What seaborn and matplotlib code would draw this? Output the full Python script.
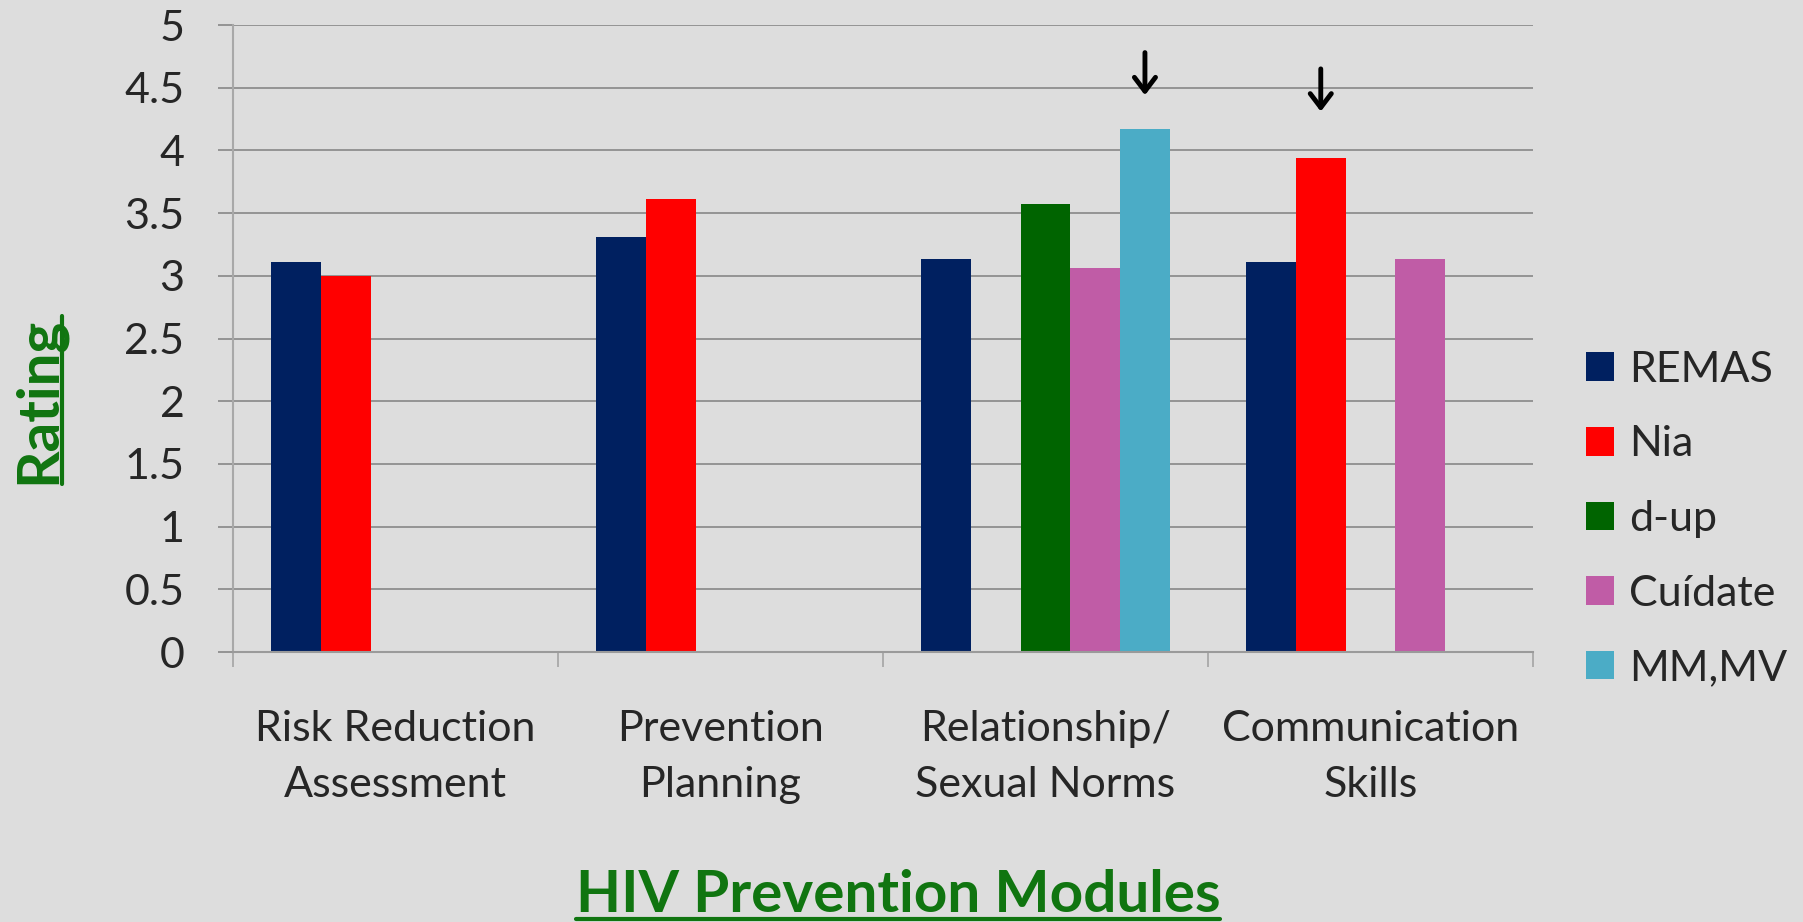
import numpy as np
import pandas as pd
import matplotlib
matplotlib.use("Agg")
import matplotlib.pyplot as plt
from matplotlib.lines import Line2D
import seaborn as sns

# ---------------- data ----------------
modules = ["Risk Reduction\nAssessment", "Prevention\nPlanning",
           "Relationship/\nSexual Norms", "Communication\nSkills"]
programs = ["REMAS", "Nia", "d-up", "Cuídate", "MM,MV"]
remas = [3.11, 3.31, 3.13, 3.11]
nia = [3.00, 3.61, np.nan, 3.94]
dup = [np.nan, np.nan, 3.57, np.nan]
cuidate = [np.nan, np.nan, 3.06, 3.13]
mmmv = [np.nan, np.nan, 4.17, np.nan]
colors = ["#002060", "#FF0000", "#006400", "#C05CA6", "#4BACC6"]
y_ticks = [0, 0.5, 1, 1.5, 2, 2.5, 3, 3.5, 4, 4.5, 5]
y_tick_labels = ["0", "0.5", "1", "1.5", "2", "2.5", "3", "3.5", "4", "4.5", "5"]
x_title = "HIV Prevention Modules"
y_title = "Rating"

series = {"REMAS": remas, "Nia": nia, "d-up": dup, "Cuídate": cuidate, "MM,MV": mmmv}
rows = []
for p in programs:
    for m, v in zip(modules, series[p]):
        rows.append({"module": m, "program": p, "rating": v})
df = pd.DataFrame(rows).dropna()

# ---------------- style ----------------
BG = "#DDDDDD"
GREEN = "#107510"
sns.set_style("white")
plt.rcParams["font.family"] = ["Lato", "DejaVu Sans"]
plt.rcParams["axes.facecolor"] = BG
plt.rcParams["figure.facecolor"] = BG

fig = plt.figure(figsize=(18.03, 9.22), dpi=100)
ax = fig.add_axes([233 / 1803, 1 - 652 / 922, 1300 / 1803, 627 / 922])
ax.set_facecolor(BG)

sns.barplot(data=df, x="module", y="rating", hue="program",
            order=modules, hue_order=programs, palette=colors,
            saturation=1, width=0.765, linewidth=0, ax=ax, legend=True)

ax.set_ylim(0, 5)
ax.set_xlim(-0.5, len(modules) - 0.5)
ax.set_yticks(y_ticks)
ax.set_yticklabels(y_tick_labels)
ax.yaxis.grid(True, color="#8E8E8E", linewidth=1.3)
ax.set_axisbelow(True)
for s in ["top", "right"]:
    ax.spines[s].set_visible(False)
ax.spines["left"].set_color("#A8A8A8")
ax.spines["left"].set_linewidth(1.5)
ax.spines["bottom"].set_color("#9A9A9A")
ax.spines["bottom"].set_linewidth(1.5)

ax.tick_params(axis="y", direction="out", length=11, width=1.3, color="#8E8E8E",
               labelsize=31, pad=24, left=True)
ax.tick_params(axis="x", which="major", length=0, labelsize=31, pad=42)
ax.set_xticks(np.arange(-0.5, len(modules)), minor=True)
ax.tick_params(axis="x", which="minor", direction="out", length=11, width=1.3,
               color="#A8A8A8", bottom=True)
for lbl in ax.get_xticklabels():
    lbl.set_linespacing(1.58)

# axis titles
ax.set_xlabel(x_title, fontsize=42, fontweight="bold", color=GREEN, va="baseline")
ax.xaxis.set_label_coords((898 - 233) / 1300, (652 - 912) / 627)
ax.set_ylabel(y_title, fontsize=42, fontweight="bold", color=GREEN, va="baseline")
ax.yaxis.set_label_coords((55 - 233) / 1300, (652 - 400) / 627)

# legend
handles, labels = ax.get_legend_handles_labels()
ax.legend(handles, labels, loc="center left",
          bbox_to_anchor=(1586 / 1803, 1 - 519 / 922), bbox_transform=fig.transFigure,
          frameon=False, fontsize=31, handlelength=0.65, handleheight=0.65,
          handletextpad=0.35, labelspacing=0.85, borderpad=0, borderaxespad=0)

# arrows above highlighted bars (containers follow hue order)
def bar_center(label, cat_idx):
    cont = ax.containers[programs.index(label)]
    best = min(cont.patches, key=lambda p: abs(p.get_x() + p.get_width() / 2 - cat_idx))
    return best.get_x() + best.get_width() / 2

for lab, ci, y_top, y_tip in [("MM,MV", 2, 4.78, 4.44), ("Nia", 3, 4.65, 4.31)]:
    xc = bar_center(lab, ci)
    ax.annotate("", xy=(xc, y_tip), xytext=(xc, y_top),
                arrowprops=dict(arrowstyle="->,head_length=0.5,head_width=0.38",
                                lw=3.5, color="black", mutation_scale=20,
                                shrinkA=0, shrinkB=0),
                annotation_clip=False)

# underline the axis titles
fig.canvas.draw()
r = fig.canvas.get_renderer()
xb = ax.xaxis.label.get_window_extent(r)
base_y = 922 - 912
fig.add_artist(Line2D([xb.x0, xb.x1], [base_y - 7, base_y - 7], transform=None,
                      color=GREEN, linewidth=3))
yb = ax.yaxis.label.get_window_extent(r)
fig.add_artist(Line2D([55 + 7, 55 + 7], [yb.y0, yb.y1], transform=None,
                      color=GREEN, linewidth=3))

fig.savefig("out.png", dpi=100, facecolor=BG)
